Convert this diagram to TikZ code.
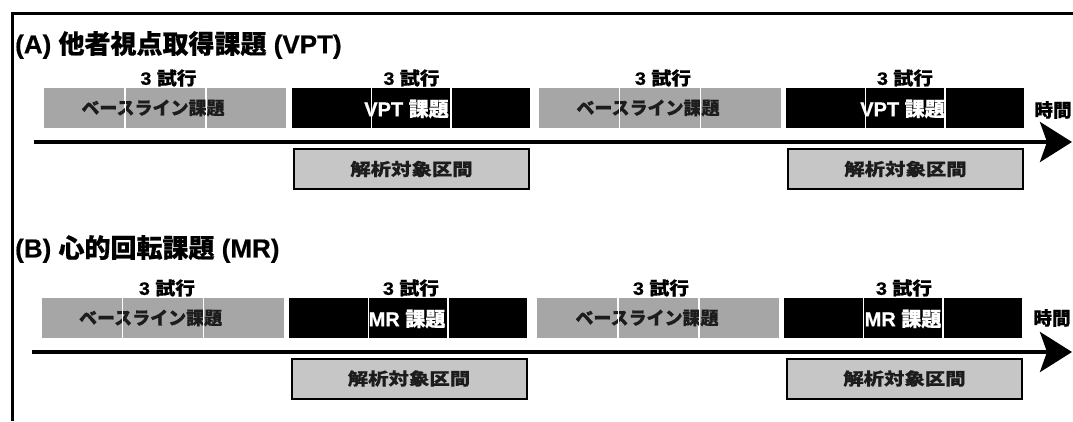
\documentclass[tikz,border=0pt]{standalone}
\usepackage{fontspec}
\usepackage{graphicx}
\setmainfont{Liberation Sans}[BoldFeatures={FakeBold=0.6}]
\newfontfamily\cjk{Noto Sans CJK JP}[BoldFeatures={FakeBold=0.6}]
\usetikzlibrary{arrows.meta}
\definecolor{boxgray}{RGB}{166,166,166}
\definecolor{anagray}{RGB}{198,198,198}
\definecolor{txtdark}{RGB}{28,28,28}
\newcommand{\J}[1]{{\cjk\bfseries #1}}
\newcommand{\Lt}[1]{{\bfseries #1}}
\begin{document}
\begin{tikzpicture}[x=1pt,y=-1pt,
  basebox/.style={rectangle, fill=boxgray, draw=white, line width=1.2pt, minimum width=81pt, minimum height=41pt, inner sep=0pt, anchor=north west},
  taskbox/.style={basebox, fill=black, minimum width=79.6pt},
  anabox/.style={rectangle, fill=anagray, draw=black, line width=2pt, minimum width=235pt, minimum height=40pt, inner sep=0pt, anchor=north west, text=txtdark, font=\fontsize{17}{17}\selectfont},
  sepline/.style={white, line width=1.2pt},
  timeaxis/.style={line width=4pt, -{Stealth[length=32pt,width=40pt,inset=7pt]}},
  titletext/.style={anchor=west, inner sep=0pt, font=\fontsize{26}{26}\selectfont\bfseries},
  trialtext/.style={inner sep=0pt, font=\fontsize{18}{18}\selectfont},
  basetext/.style={inner sep=0pt, text=txtdark, font=\fontsize{18}{18}\selectfont},
  tasktext/.style={inner sep=0pt, text=white, font=\fontsize{20}{20}\selectfont\bfseries},
  timetext/.style={inner sep=0pt, font=\fontsize{18.5}{18.5}\selectfont}
]
\useasboundingbox (0,0) rectangle (1073,421);
% frame
\coordinate (fr1) at (1073,13.5);
\coordinate (fr2) at (12.5,13.5);
\coordinate (fr3) at (12.5,421);
\draw[line width=3.5pt] (fr1) -- (fr2) -- (fr3);

% ================= (A) =================
\node[titletext] (tA) at (15,45) {(A) \J{他者視点取得課題} (VPT)};

\node[trialtext] (nA1) at (168.5,78) {\scalebox{1.1}[1]{\Lt{3} \J{試行}}};
\node[trialtext] (nA2) at (411.5,78) {\scalebox{1.1}[1]{\Lt{3} \J{試行}}};
\node[trialtext] (nA3) at (663,78) {\scalebox{1.1}[1]{\Lt{3} \J{試行}}};
\node[trialtext] (nA4) at (905,78) {\scalebox{1.1}[1]{\Lt{3} \J{試行}}};

\node[basebox] (a11) at (43,87) {};
\node[basebox] (a12) at (124,87) {};
\node[basebox] (a13) at (205,87) {};
\node[taskbox] (a21) at (291,87) {};
\node[taskbox] (a22) at (370.6,87) {};
\node[taskbox] (a23) at (450.2,87) {};
\node[basebox] (a31) at (537.5,87) {};
\node[basebox] (a32) at (618.5,87) {};
\node[basebox] (a33) at (699.5,87) {};
\node[taskbox] (a41) at (785,87) {};
\node[taskbox] (a42) at (864.6,87) {};
\node[taskbox] (a43) at (944.2,87) {};

\node[basetext] (lA1) at (153,108) {\J{ベースライン課題}};
\node[tasktext] (lA2) at (406.5,109) {VPT \J{課題}};
\node[basetext] (lA3) at (648,108) {\J{ベースライン課題}};
\node[tasktext] (lA4) at (902.5,109) {VPT \J{課題}};

\foreach \n in {a11,a12,a21,a22,a31,a32,a41,a42}
  \draw[sepline] (\n.north east) -- (\n.south east);

\node[timetext] (tmA) at (1053,110) {\J{時間}};

\coordinate (axA0) at (34,142);
\coordinate (axA1) at (1072,142);
\draw[timeaxis] (axA0) -- (axA1);

\node[anabox] (anA1) at (293,148) {\scalebox{1.2}[1]{\J{解析対象区間}}};
\node[anabox] (anA2) at (787,148) {\scalebox{1.2}[1]{\J{解析対象区間}}};

% ================= (B) =================
\node[titletext] (tB) at (15,249) {(B) \J{心的回転課題} (MR)};

\node[trialtext] (nB1) at (167,288) {\scalebox{1.1}[1]{\Lt{3} \J{試行}}};
\node[trialtext] (nB2) at (411,288) {\scalebox{1.1}[1]{\Lt{3} \J{試行}}};
\node[trialtext] (nB3) at (661,288) {\scalebox{1.1}[1]{\Lt{3} \J{試行}}};
\node[trialtext] (nB4) at (904,288) {\scalebox{1.1}[1]{\Lt{3} \J{試行}}};

\node[basebox] (b11) at (40.6,297) {};
\node[basebox] (b12) at (121.6,297) {};
\node[basebox] (b13) at (202.6,297) {};
\node[taskbox] (b21) at (288,297) {};
\node[taskbox] (b22) at (367.6,297) {};
\node[taskbox] (b23) at (447.2,297) {};
\node[basebox] (b31) at (536,297) {};
\node[basebox] (b32) at (617,297) {};
\node[basebox] (b33) at (698,297) {};
\node[taskbox] (b41) at (783,297) {};
\node[taskbox] (b42) at (862.6,297) {};
\node[taskbox] (b43) at (942.2,297) {};

\node[basetext] (lB1) at (150.6,318) {\J{ベースライン課題}};
\node[tasktext] (lB2) at (407,319) {MR \J{課題}};
\node[basetext] (lB3) at (647,318) {\J{ベースライン課題}};
\node[tasktext] (lB4) at (903,319) {MR \J{課題}};

\foreach \n in {b11,b12,b21,b22,b31,b32,b41,b42}
  \draw[sepline] (\n.north east) -- (\n.south east);

\node[timetext] (tmB) at (1052,318) {\J{時間}};

\coordinate (axB0) at (32,352);
\coordinate (axB1) at (1072,352);
\draw[timeaxis] (axB0) -- (axB1);

\node[anabox] (anB1) at (290.5,357.5) {\scalebox{1.2}[1]{\J{解析対象区間}}};
\node[anabox] (anB2) at (786,357.5) {\scalebox{1.2}[1]{\J{解析対象区間}}};
\end{tikzpicture}
\end{document}
